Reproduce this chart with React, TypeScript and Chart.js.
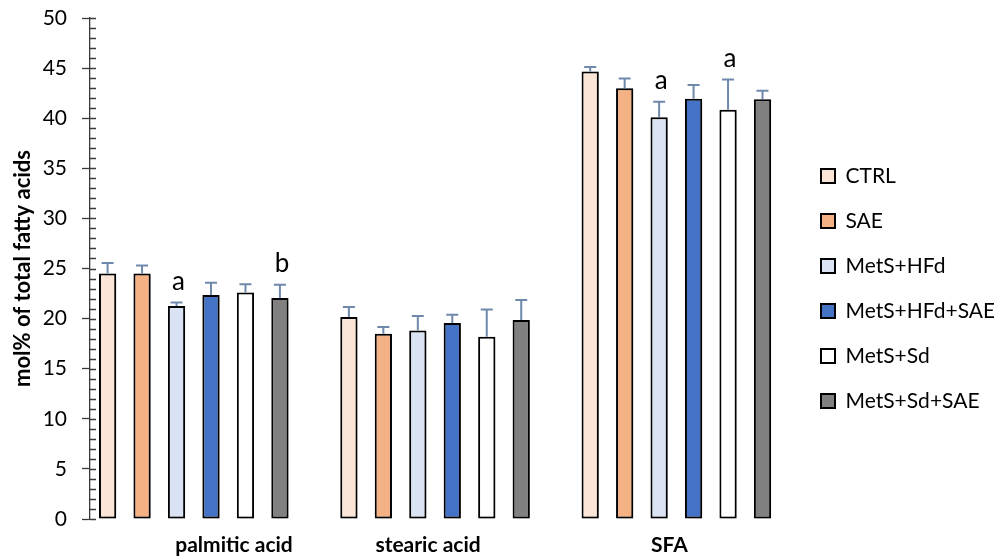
import React, { useEffect, useRef } from "react";
import { Chart, registerables } from "chart.js";

Chart.register(...registerables);

// Fatty acid categories (x axis)
const categories = ["palmitic acid", "stearic acid", "SFA"];

// Treatment groups
const groups = ["CTRL", "SAE", "MetS+HFd", "MetS+HFd+SAE", "MetS+Sd", "MetS+Sd+SAE"];

// Mean mol% per group, ordered as the categories
const ctrl = [24.5, 20.15, 44.65];
const sae = [24.5, 18.5, 43.0];
const metsHfd = [21.25, 18.8, 40.1];
const metsHfdSae = [22.35, 19.55, 41.95];
const metsSd = [22.6, 18.2, 40.85];
const metsSdSae = [22.05, 19.85, 41.9];

// Standard errors (upper whisker only)
const ctrlErr = [1.05, 1.0, 0.47];
const saeErr = [0.8, 0.65, 0.96];
const metsHfdErr = [0.35, 1.45, 1.53];
const metsHfdSaeErr = [1.23, 0.84, 1.37];
const metsSdErr = [0.83, 2.7, 3.0];
const metsSdSaeErr = [1.33, 2.0, 0.83];

// Significance letters shown above the whiskers
const ctrlSig = ["", "", ""];
const saeSig = ["", "", ""];
const metsHfdSig = ["a", "", "a"];
const metsHfdSaeSig = ["", "", ""];
const metsSdSig = ["", "", "a"];
const metsSdSaeSig = ["b", "", ""];

// Y axis range
const yMin = 0;
const yMax = 50;
const yStep = 5;

const colors = ["#FBE5D6", "#F4B183", "#DAE3F3", "#4472C4", "#FFFFFF", "#808080"];
const seriesValues = [ctrl, sae, metsHfd, metsHfdSae, metsSd, metsSdSae];
const seriesErrors = [ctrlErr, saeErr, metsHfdErr, metsHfdSaeErr, metsSdErr, metsSdSaeErr];
const seriesSig = [ctrlSig, saeSig, metsHfdSig, metsHfdSaeSig, metsSdSig, metsSdSaeSig];

const FONT = "Lato, 'Open Sans', sans-serif";
const ERR_COLOR = "#6F89AD";
const AXIS_COLOR = "#3a3a3a";

// Soft drop shadow behind the bars
const barShadow = {
  id: "barShadow",
  beforeDatasetsDraw(chart: any) {
    const ctx = chart.ctx;
    ctx.save();
    ctx.shadowColor = "rgba(0,0,0,0.30)";
    ctx.shadowBlur = 4;
    ctx.shadowOffsetX = 2;
    ctx.shadowOffsetY = 1;
  },
  afterDatasetsDraw(chart: any) {
    chart.ctx.restore();
  },
};

// Upper error whiskers and significance letters
const whiskers = {
  id: "whiskers",
  afterDatasetsDraw(chart: any) {
    const ctx = chart.ctx;
    const yScale = chart.scales.y;
    chart.data.datasets.forEach((_ds: any, i: number) => {
      const meta = chart.getDatasetMeta(i);
      meta.data.forEach((bar: any, j: number) => {
        const v = seriesValues[i][j];
        const e = seriesErrors[i][j];
        const yBar = yScale.getPixelForValue(v);
        const yTop = yScale.getPixelForValue(v + e);
        ctx.save();
        ctx.strokeStyle = ERR_COLOR;
        ctx.lineWidth = 2;
        ctx.beginPath();
        ctx.moveTo(bar.x, yBar);
        ctx.lineTo(bar.x, yTop);
        ctx.moveTo(bar.x - 6, yTop);
        ctx.lineTo(bar.x + 6, yTop);
        ctx.stroke();
        const sig = seriesSig[i][j];
        if (sig) {
          ctx.fillStyle = "#000";
          ctx.font = `26px ${FONT}`;
          ctx.textAlign = "center";
          ctx.textBaseline = "alphabetic";
          ctx.fillText(sig, bar.x + 2, yTop - 13);
        }
        ctx.restore();
      });
    });
  },
};

// Minor tick marks on the inner side of the value axis
const minorTicks = {
  id: "minorTicks",
  afterDraw(chart: any) {
    const ctx = chart.ctx;
    const yScale = chart.scales.y;
    const x0 = chart.chartArea.left;
    ctx.save();
    ctx.strokeStyle = AXIS_COLOR;
    ctx.lineWidth = 1.3;
    ctx.beginPath();
    for (let v = yMin; v <= yMax; v += 1) {
      const y = Math.round(yScale.getPixelForValue(v)) + 0.5;
      ctx.moveTo(x0, y);
      ctx.lineTo(x0 + 6, y);
    }
    ctx.stroke();
    ctx.restore();
  },
};

export default function App() {
  const canvasRef = useRef<HTMLCanvasElement | null>(null);

  useEffect(() => {
    if (!canvasRef.current) return;
    const chart = new Chart(canvasRef.current, {
      type: "bar",
      data: {
        datasets: groups.map((g, i) => ({
          label: g,
          data: seriesValues[i].map((v, j) => ({ x: j, y: v })),
          backgroundColor: colors[i],
          borderColor: "#000",
          borderWidth: 2,
          borderSkipped: false,
          categoryPercentage: 0.857,
          barPercentage: 0.5,
        })),
      },
      options: {
        animation: false,
        responsive: true,
        maintainAspectRatio: false,
        layout: { padding: 0 },
        plugins: {
          legend: {
            position: "right",
            maxWidth: 197,
            title: { display: true, text: " ", padding: 0, font: { size: 15 } },
            labels: {
              boxWidth: 14,
              boxHeight: 14,
              padding: 24,
              color: "#000",
              font: { family: FONT, size: 21 },
            },
          },
          tooltip: { enabled: false },
        },
        scales: {
          x: {
            type: "linear",
            min: -0.43,
            max: 2.5,
            offset: false,
            grid: { display: false, drawTicks: false },
            border: { display: false },
            afterBuildTicks: (scale: any) => {
              scale.ticks = categories.map((_, i) => ({ value: i }));
            },
            afterFit: (scale: any) => {
              scale.height = 40;
              scale.paddingLeft = 0;
              scale.paddingRight = 0;
            },
            ticks: {
              padding: 14,
              labelOffset: -7,
              maxRotation: 0,
              autoSkip: false,
              color: "#000",
              font: { family: FONT, size: 21, weight: "bold" },
              callback: (v: any) => {
                const i = Number(v);
                return i === 0 ? "\u2003".repeat(6) + categories[i] : categories[i];
              },
            },
          },
          y: {
            min: yMin,
            max: yMax,
            afterFit: (scale: any) => {
              scale.width = 90;
              scale.paddingTop = 18;
              scale.paddingBottom = 0;
            },
            ticks: {
              stepSize: yStep,
              padding: 15,
              color: "#000",
              font: { family: FONT, size: 21 },
            },
            grid: {
              display: true,
              drawOnChartArea: false,
              drawTicks: true,
              tickLength: 8,
              tickWidth: 1.3,
              tickColor: AXIS_COLOR,
            },
            border: { display: true, color: AXIS_COLOR, width: 1.3 },
            title: {
              display: true,
              text: "mol% of total fatty acids",
              color: "#000",
              font: { family: FONT, size: 22, weight: "bold" },
              padding: { top: 10, bottom: 4 },
            },
          },
        },
      },
      plugins: [barShadow, whiskers, minorTicks],
    });
    return () => chart.destroy();
  }, []);

  return (
    <div style={{ position: "fixed", left: 0, top: 0, width: 994, height: 559 }}>
      <canvas ref={canvasRef} />
    </div>
  );
}
